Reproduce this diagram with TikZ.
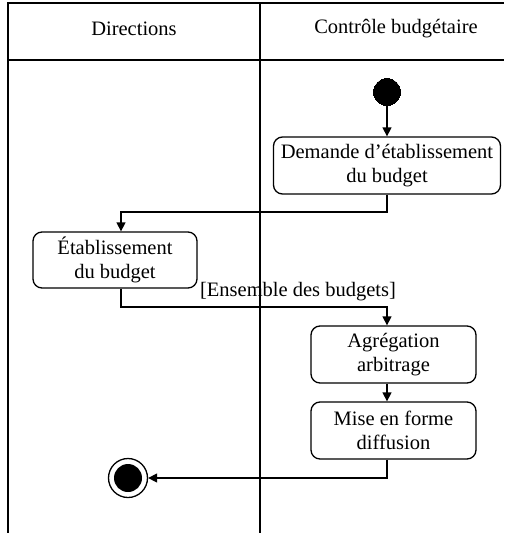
\documentclass[tikz,border=0pt]{standalone}
\usepackage{fontspec}
\setmainfont{Liberation Serif}
\usetikzlibrary{arrows.meta,calc}
\begin{document}
\begin{tikzpicture}[x=1pt,y=-1pt,line width=1.3pt,
  act/.style={draw,rounded corners=9pt,align=center,inner sep=0pt,
    font=\fontsize{20.5}{24}\selectfont},
  lbl/.style={font=\fontsize{20.5}{24}\selectfont,inner sep=0pt},
  arr/.style={-{Triangle[length=9pt,width=9pt]}}]
\useasboundingbox (0,0) rectangle (504,533);
% swimlanes
\draw (8,533) -- (8,3) -- (504,3);
\draw (8,60) -- (504,60);
\draw (260,3) -- (260,533);
\node[lbl] (h1) at (134,29) {Directions};
\node[lbl] (h2) at (396,29) {Contrôle budgétaire};
% nodes
\node[draw,fill=black,circle,minimum size=27pt,inner sep=0pt,line width=0pt] (start) at (387,92) {};
\node[act,minimum width=227pt,minimum height=57pt] (dem) at (387,165.5) {Demande d’établissement\\du budget};
\node[act,minimum width=164pt,minimum height=56pt] (etab) at (115,260) {Établissement\\du budget};
\node[act,minimum width=165pt,minimum height=57pt] (agg) at (393.5,354.5) {Agrégation\\arbitrage};
\node[act,minimum width=165pt,minimum height=57pt] (mise) at (393.5,430.5) {Mise en forme\\diffusion};
\node[circle,draw,minimum size=39pt,inner sep=0pt,line width=1.3pt] (end) at (128,478) {};
\node[circle,fill=black,minimum size=28pt,inner sep=0pt] (endin) at (end.center) {};
\node[lbl] (guard) at (298,292) {[Ensemble des budgets]};
% coordinates
\coordinate (k1) at (121,212);
\coordinate (k2) at (387,307);
\coordinate (k3) at (387,0);
% edges
\draw[arr] (start) -- (dem.north -| start);
\draw[arr] (dem.south -| start) |- (k1) -- (k1 |- etab.north);
\draw[arr] (etab.south -| k1) |- (k2) -- (k2 |- agg.north);
\draw[arr] (agg.south -| k2) -- (mise.north -| k2);
\draw[arr] (mise.south -| k2) |- (end.east);
\end{tikzpicture}
\end{document}
